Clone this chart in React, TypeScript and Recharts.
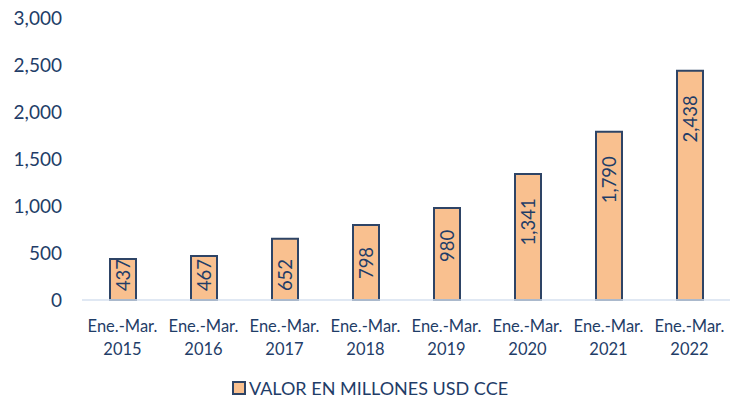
import { BarChart, Bar, XAxis, YAxis, LabelList, Legend } from 'recharts';

const periods = ['Ene.-Mar.', 'Ene.-Mar.', 'Ene.-Mar.', 'Ene.-Mar.', 'Ene.-Mar.', 'Ene.-Mar.', 'Ene.-Mar.', 'Ene.-Mar.'];
const years = ['2015', '2016', '2017', '2018', '2019', '2020', '2021', '2022'];
const values = [437, 467, 652, 798, 980, 1341, 1790, 2438];
const yTicks = [0, 500, 1000, 1500, 2000, 2500, 3000];
const seriesName = 'VALOR EN MILLONES USD CCE';

const data = years.map((y, i) => ({ cat: `${periods[i]}|${y}`, value: values[i] }));

const FONT = 'Lato, "Open Sans", sans-serif';
const TEXT = '#1f3d68';

function XTick(props: any) {
  const { x, payload } = props;
  const [a, b] = String(payload.value).split('|');
  return (
    <g>
      <text x={x} y={332} textAnchor="middle" fontSize={16.5} fill={TEXT} fontFamily={FONT}>{a}</text>
      <text x={x} y={355} textAnchor="middle" fontSize={16.5} fill={TEXT} fontFamily={FONT}>{b}</text>
    </g>
  );
}

function BarLabel(props: any) {
  const { x, y, width, height, value } = props;
  const txt = Number(value).toLocaleString('en-US');
  const w = txt.length * 10;
  const cx = x + width / 2;
  let cy = y + 23 + w / 2;
  const maxCy = y + height - 10 - w / 2;
  if (cy > maxCy) cy = maxCy;
  return (
    <text
      x={cx}
      y={cy}
      transform={`rotate(-90 ${cx} ${cy})`}
      textAnchor="middle"
      dominantBaseline="central"
      fontSize={18.5}
      fill={TEXT}
      fontFamily={FONT}
    >
      {txt}
    </text>
  );
}

function LegendBox() {
  return (
    <div style={{ display: 'flex', alignItems: 'center', justifyContent: 'center', fontFamily: FONT, fontSize: 18, color: TEXT, paddingTop: 13, marginLeft: 10 }}>
      <span style={{ width: 10, height: 10, background: '#f9c08f', border: '2px solid #2e4466', marginRight: 3, display: 'inline-block' }} />
      <span>{seriesName}</span>
    </div>
  );
}

export default function App() {
  return (
    <div style={{ position: 'absolute', left: 0, top: 0, width: 738, height: 406, background: '#fff' }}>
      <BarChart width={738} height={406} data={data} margin={{ top: 18, right: 8, left: 0, bottom: 0 }}>
        <YAxis
          domain={[0, 3000]}
          ticks={yTicks}
          width={82}
          axisLine={false}
          tickLine={false}
          tickSize={0}
          tickMargin={20}
          tickFormatter={(v: number) => v.toLocaleString('en-US')}
          tick={{ fontSize: 19, fill: TEXT, fontFamily: FONT }}
        />
        <XAxis
          dataKey="cat"
          height={64}
          interval={0}
          tickLine={false}
          axisLine={{ stroke: '#d6e0ef', strokeWidth: 1.5 }}
          tick={<XTick />}
        />
        <Legend verticalAlign="bottom" height={42} content={<LegendBox />} />
        <Bar dataKey="value" name={seriesName} fill="#f9c08f" stroke="#2e4466" strokeWidth={2} barSize={26} isAnimationActive={false}>
          <LabelList dataKey="value" content={<BarLabel />} />
        </Bar>
      </BarChart>
    </div>
  );
}
